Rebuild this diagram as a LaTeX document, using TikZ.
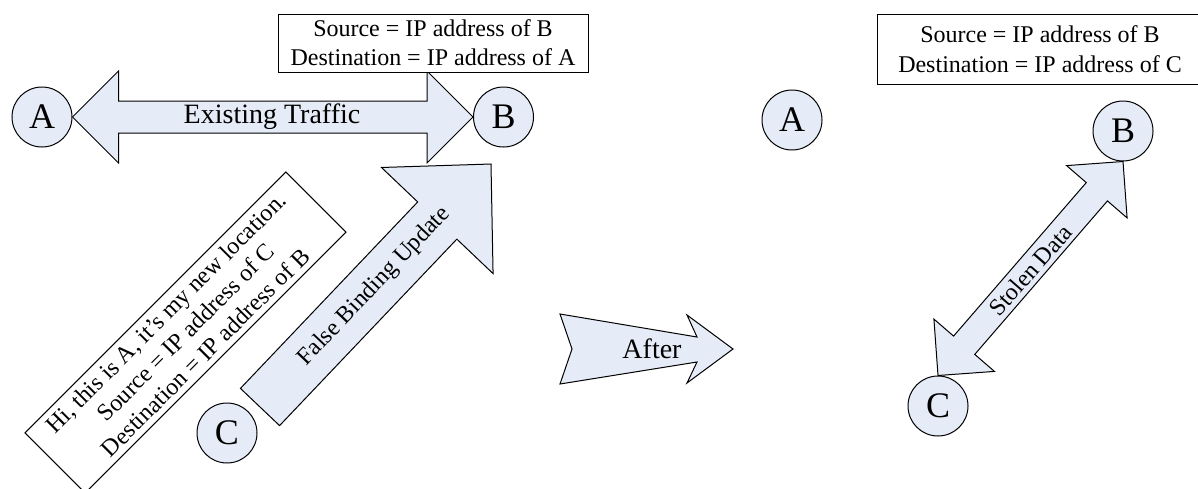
\documentclass[tikz,border=0pt]{standalone}
\usepackage{fontspec}
\setmainfont{Liberation Serif}
\usetikzlibrary{calc}
\definecolor{shapefill}{RGB}{230,236,247}
\tikzset{
  outline/.style={draw=black,line width=1pt,line join=miter},
  station/.style={circle,outline,fill=shapefill,minimum size=60pt,inner sep=0pt,
    font=\fontsize{36}{40}\selectfont},
  infobox/.style={draw=black,line width=1pt,fill=white,align=center,inner sep=0pt},
  blockarrow/.style={outline,fill=shapefill},
  arrowlabel/.style={inner sep=0pt,font=\fontsize{24}{28}\selectfont},
}
% double-headed block arrow: from, to, head length, head half-width, shaft half-width
\newcommand\blkDouble[5]{%
  \coordinate (bdA) at ($(#1)!#3!(#2)$);
  \coordinate (bdB) at ($(#2)!#3!(#1)$);
  \draw[blockarrow] (#1) -- ($(bdA)!#4!90:(#2)$) -- ($(bdA)!#5!90:(#2)$)
    -- ($(bdB)!#5!-90:(#1)$) -- ($(bdB)!#4!-90:(#1)$) -- (#2)
    -- ($(bdB)!#4!90:(#1)$) -- ($(bdB)!#5!90:(#1)$)
    -- ($(bdA)!#5!-90:(#2)$) -- ($(bdA)!#4!-90:(#2)$) -- cycle;
}
% single-headed block arrow: tail, tip, head length, head half-width, shaft half-width
\newcommand\blkSingle[5]{%
  \coordinate (bsH) at ($(#2)!#3!(#1)$);
  \draw[blockarrow] ($(#1)!#5!-90:(#2)$) -- ($(bsH)!#5!-90:(#2)$)
    -- ($(bsH)!#4!-90:(#2)$) -- (#2) -- ($(bsH)!#4!90:(#2)$)
    -- ($(bsH)!#5!90:(#2)$) -- ($(#1)!#5!90:(#2)$) -- cycle;
}
\begin{document}
\begin{tikzpicture}[x=1pt,y=-1pt]
\path[use as bounding box,clip] (0,0) rectangle (1198,488);

% ---- before: existing traffic and the forged binding update ----
\node[station] (A1) at (42,117) {A};
\node[station] (B1) at (503.5,117) {B};
\node[station] (C1) at (227,433) {C};

\blkDouble{A1.east}{B1.west}{46pt}{46pt}{16pt}
\node[arrowlabel,font=\fontsize{28}{32}\selectfont] (traffic) at (272,117) {Existing Traffic};

\node[infobox,minimum width=310pt,minimum height=58pt,
      font=\fontsize{24}{29}\selectfont] (box1) at (433,43)
  {Source = IP address of B\\Destination = IP address of A};

\coordinate (fbuTail) at (260,407);
\coordinate (fbuTip) at (491,164);
\blkSingle{fbuTail}{fbuTip}{78pt}{77pt}{27pt}
\node[arrowlabel,rotate=46.5] (fbu) at (374.5,286.5) {False Binding Update};

\node[infobox,rotate=45,minimum width=369pt,minimum height=85pt,
      font=\fontsize{24}{28}\selectfont] (msg) at (185.5,332.5)
  {Hi, this is A, it’s my new location.\\Source = IP address of C\\Destination = IP address of B};

% ---- transition ----
\draw[blockarrow] (560,314) -- (697,337) -- (687,315) -- (733,349) -- (687,383)
  -- (697,362) -- (560,384) -- (572,349) -- cycle;
\node[arrowlabel,font=\fontsize{28}{32}\selectfont] (after) at (652,349) {After};

% ---- after: data redirected to C ----
\node[station] (A2) at (792,120) {A};
\node[station] (B2) at (1123,131) {B};
\node[station] (C2) at (938,406) {C};

\node[infobox,minimum width=326pt,minimum height=70pt,
      font=\fontsize{24}{30}\selectfont] (box2) at (1040,49)
  {Source = IP address of B\\Destination = IP address of C};

\blkDouble{C2.north}{B2.south}{40pt}{40pt}{14pt}
\node[arrowlabel,rotate=48.8] (stolen) at (1030.5,270) {Stolen Data};
\end{tikzpicture}
\end{document}
